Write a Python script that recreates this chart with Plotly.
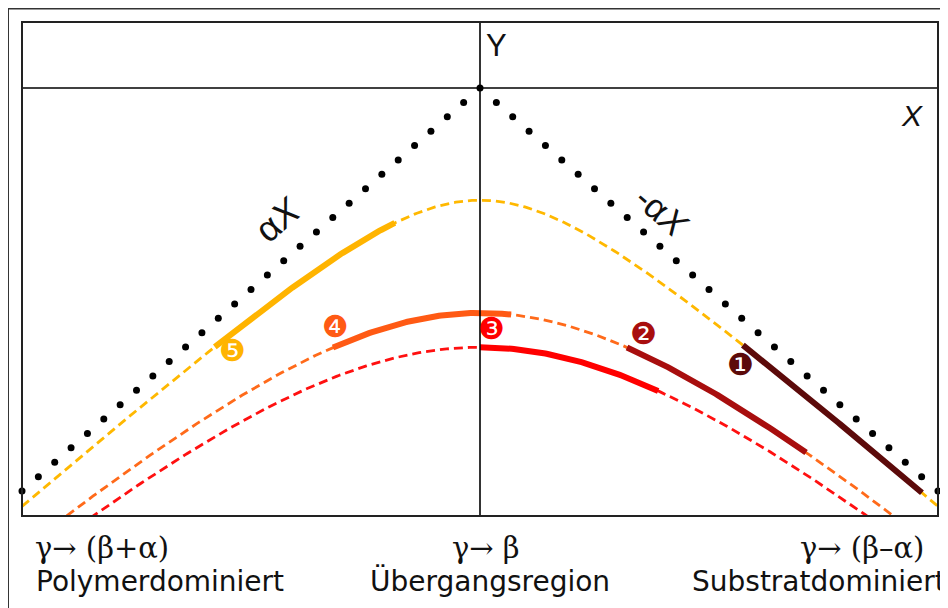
import numpy as np
import plotly.graph_objects as go

# ---- data (schematic) ----
alpha = 0.88                      # slope of the asymptotes  ±αX
curve_names = ["gelb", "orange", "rot"]
curve_offsets = [0.245, 0.491, 0.566]   # apex depth of each hyperbola below Y-origin
curve_colors = ["#FFB800", "#FF6A1A", "#FF1010"]

seg_labels = ["1", "2", "3", "4", "5"]
seg_curve = [0, 1, 2, 1, 0]              # which curve each segment lies on
seg_x0 = [0.574, 0.321, 0.000, -0.321, -0.579]
seg_x1 = [0.965, 0.712, 0.389, 0.068, -0.186]
seg_colors = ["#5C0A0A", "#A80E0E", "#FF0000", "#FF5A14", "#FFB400"]
badge_glyph = ["\u2776", "\u2777", "\u2778", "\u2779", "\u277A"]
badge_shift = [(-2, -19), (16, 14), (11, 19), (3, 21), (18, -4)]

bottom_top = ["\u03b3\u2192 (\u03b2+\u03b1)", "\u03b3\u2192 \u03b2", "\u03b3\u2192 (\u03b2\u2013\u03b1)"]
bottom_bot = ["Polymerdominiert", "\u00dcbergangsregion", "Substratdominiert"]

fig = go.Figure()

def hyper(x, h):
    return -np.sqrt((alpha * x) ** 2 + h ** 2)

# dashed hyperbolas
xs = np.linspace(-1, 1, 400)
for h, c in zip(curve_offsets, curve_colors):
    fig.add_trace(go.Scatter(x=xs, y=hyper(xs, h), mode="lines",
                             line=dict(color=c, width=2.8, dash="9px,5px"),
                             hoverinfo="skip"))

# solid segments
for k in range(len(seg_labels)):
    xx = np.linspace(seg_x0[k], seg_x1[k], 80)
    fig.add_trace(go.Scatter(x=xx, y=hyper(xx, curve_offsets[seg_curve[k]]), mode="lines",
                             line=dict(color=seg_colors[k], width=6),
                             hoverinfo="skip"))

# dotted asymptotes ±αX
t = np.linspace(0, 1, 29)
dx = np.concatenate([-t[::-1], t[1:]])
fig.add_trace(go.Scatter(x=dx, y=-alpha * np.abs(dx), mode="markers",
                         marker=dict(color="black", size=7),
                         hoverinfo="skip", cliponaxis=False))

# badges
for k in range(len(seg_labels)):
    xk = seg_x0[k]
    fig.add_annotation(x=xk, y=hyper(xk, curve_offsets[seg_curve[k]]), xref="x", yref="y",
                       text=badge_glyph[k], showarrow=False,
                       xanchor="center", yanchor="middle",
                       xshift=badge_shift[k][0], yshift=badge_shift[k][1],
                       font=dict(family="DejaVu Sans", size=30, color=seg_colors[k]))

# axes lines (Y vertical, X horizontal) and boxes
fig.add_shape(type="line", xref="x", yref="paper", x0=0, x1=0, y0=0, y1=1,
              line=dict(color="black", width=1.6))
fig.add_shape(type="line", xref="paper", yref="y", x0=0, x1=1, y0=0, y1=0,
              line=dict(color="black", width=1.6))
fig.add_shape(type="rect", xref="paper", yref="paper", x0=0, x1=1, y0=0, y1=1,
              line=dict(color="#222", width=2))
fig.add_shape(type="rect", xref="paper", yref="paper", x0=-0.0153, x1=1.02, y0=-0.25, y1=1.0273,
              line=dict(color="#333", width=2))

# labels
def lab(x, y, text, size, family="Liberation Sans", angle=0, xanchor="center"):
    fig.add_annotation(x=x, y=y, xref="paper", yref="paper", text=text, showarrow=False,
                       xanchor=xanchor, yanchor="middle", textangle=angle,
                       font=dict(family=family, size=size, color="#111"))

lab(0.5044, 0.9534, "Y", 31, xanchor="left")
lab(0.9716, 0.8117, "<i>X</i>", 30)
lab(0.2795, 0.5992, "\u03b1<i>X</i>", 36, angle=-41)
lab(0.6987, 0.6174, "-\u03b1<i>X</i>", 35, angle=41)

top_x = [0.0873, 0.5066, 0.917]
bot_x = [0.1507, 0.5109, 0.7293]
bot_anchor = ["center", "center", "left"]
for i in range(3):
    lab(top_x[i], -0.0648, bottom_top[i], 29, family="DejaVu Serif")
    lab(bot_x[i], -0.1316, bottom_bot[i], 28, family="DejaVu Sans", xanchor=bot_anchor[i])

fig.update_layout(
    width=940, height=600,
    margin=dict(l=14, r=10, t=14, b=92),
    paper_bgcolor="white", plot_bgcolor="white",
    showlegend=False,
    xaxis=dict(range=[-1.0, 1.0], visible=False, fixedrange=True),
    yaxis=dict(range=[-0.9345, 0.1441], visible=False, fixedrange=True),
)
fig.write_html("out.html")
